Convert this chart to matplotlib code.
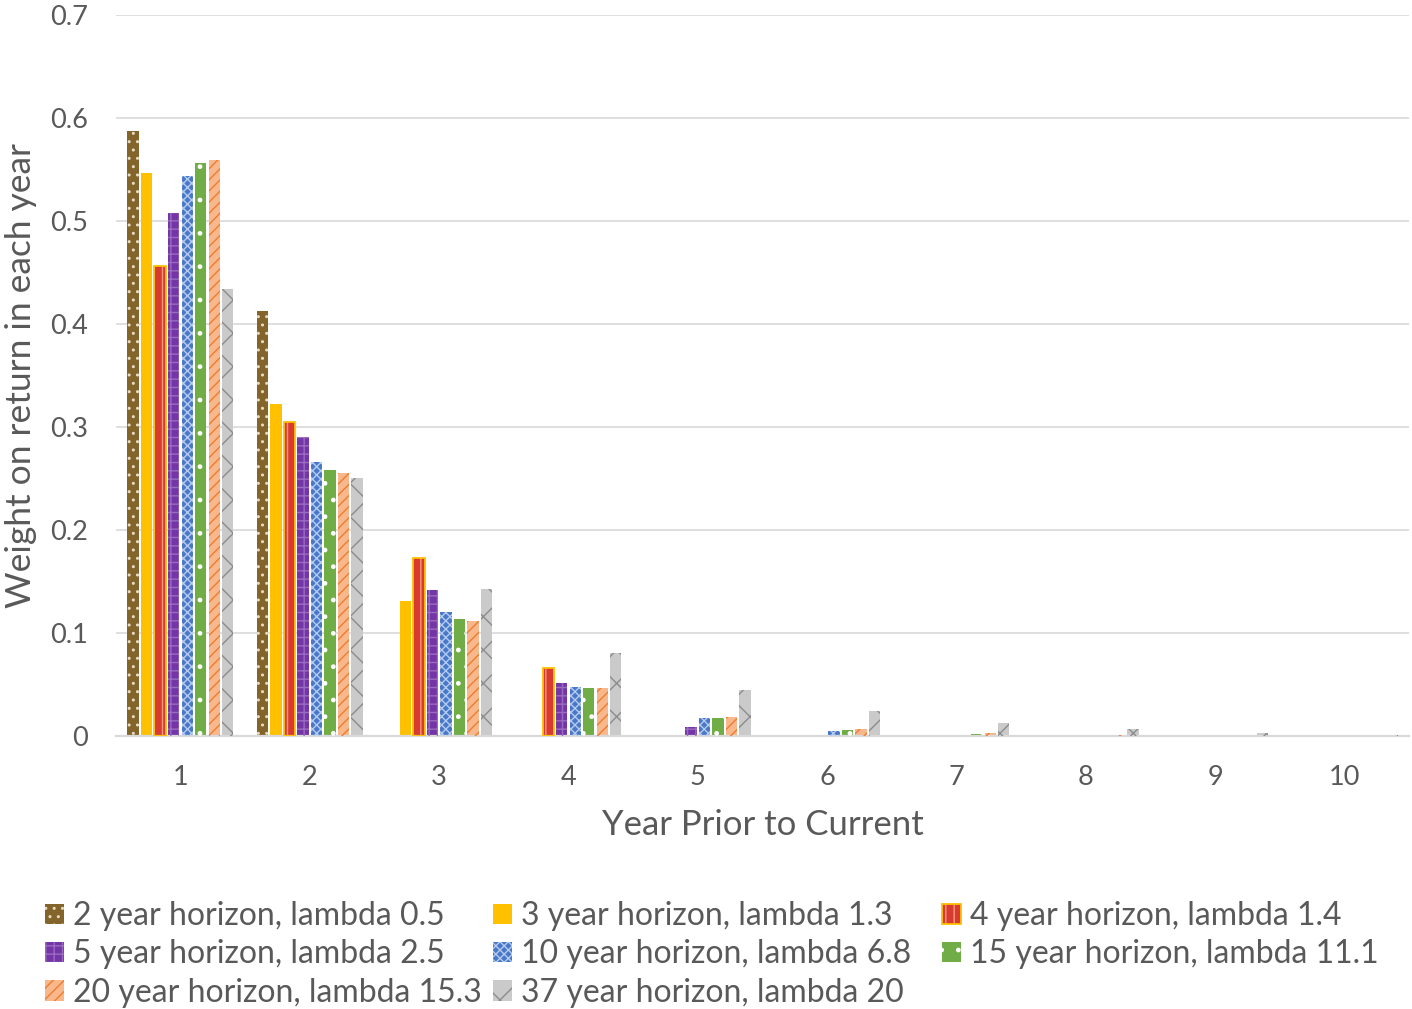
import numpy as np
import matplotlib.pyplot as plt
from matplotlib.patches import Patch
from matplotlib.legend_handler import HandlerTuple

plt.rcParams['font.family'] = ['Lato', 'DejaVu Sans']
plt.rcParams['hatch.linewidth'] = 1.0

TEXT = '#595959'
GRID = '#D9D9D9'

years = np.arange(1, 11)

labels = [
    '2 year horizon, lambda 0.5',
    '3 year horizon, lambda 1.3',
    '4 year horizon, lambda 1.4',
    '5 year horizon, lambda 2.5',
    '10 year horizon, lambda 6.8',
    '15 year horizon, lambda 11.1',
    '20 year horizon, lambda 15.3',
    '37 year horizon, lambda 20',
]

# weight on each prior year, one list per horizon
w_2 = [0.587, 0.413, 0, 0, 0, 0, 0, 0, 0, 0]
w_3 = [0.547, 0.322, 0.131, 0, 0, 0, 0, 0, 0, 0]
w_4 = [0.456, 0.305, 0.173, 0.066, 0, 0, 0, 0, 0, 0]
w_5 = [0.508, 0.290, 0.142, 0.051, 0.009, 0, 0, 0, 0, 0]
w_10 = [0.544, 0.266, 0.120, 0.048, 0.017, 0.005, 0, 0, 0, 0]
w_15 = [0.556, 0.258, 0.114, 0.047, 0.017, 0.006, 0.002, 0, 0, 0]
w_20 = [0.559, 0.255, 0.112, 0.047, 0.018, 0.007, 0.003, 0.0005, 0, 0]
w_37 = [0.434, 0.250, 0.143, 0.081, 0.045, 0.024, 0.013, 0.007, 0.003, 0.001]

series = [w_2, w_3, w_4, w_5, w_10, w_15, w_20, w_37]

# (face, hatch, hatch colour, border)
styles = [
    ('#83642A', '..', '#E8DCC0', None),
    ('#FFC000', None, None, None),
    ('#D83A30', '||', '#F59A7A', '#FFC000'),
    ('#7436A6', '++', '#9A6BC0', None),
    ('#4A78C8', 'xxxx', '#B4CBEE', None),
    ('#70AD47', '.', '#FFFFFF', None),
    ('#F8B88B', '///', '#ED7D31', None),
    ('#CACACA', 'x', '#8C8C8C', None),
]

fig = plt.figure(figsize=(14.12, 10.09), dpi=100)
ax = fig.add_axes([0.082, 0.2706, 0.916, 0.7145])

slot = 0.1045
bw = 0.088
handles = []
for i, (vals, (face, hatch, hcol, border)) in enumerate(zip(series, styles)):
    vals = np.asarray(vals, dtype=float)
    keep = vals > 0
    x = years[keep] + (i - 3.5) * slot
    ax.bar(x, vals[keep], width=bw, color=face, edgecolor='none', zorder=2)
    parts = [Patch(facecolor=face, edgecolor='none')]
    if hatch:
        ax.bar(x, vals[keep], width=bw, fill=False, hatch=hatch,
               edgecolor=hcol, linewidth=0, zorder=3)
        parts.append(Patch(fill=False, hatch=hatch, edgecolor=hcol, linewidth=0))
    if border:
        ax.bar(x, vals[keep], width=bw, fill=False, edgecolor=border,
               linewidth=1.3, zorder=4)
        parts.append(Patch(fill=False, edgecolor=border, linewidth=1.3))
    handles.append(tuple(parts))

ax.set_xlim(0.5, 10.5)
ax.set_ylim(0, 0.7)
ax.set_yticks(np.arange(0, 0.71, 0.1))
ax.set_yticklabels(['0'] + ['%.1f' % v for v in np.arange(0.1, 0.71, 0.1)])
ax.set_xticks(years)
ax.tick_params(axis='both', length=0, labelsize=19.5, colors=TEXT)
ax.tick_params(axis='y', pad=20)
ax.tick_params(axis='x', pad=21)
ax.grid(axis='y', color=GRID, linewidth=1.2, zorder=0)
ax.set_axisbelow(True)
for side in ['top', 'right', 'left']:
    ax.spines[side].set_visible(False)
ax.spines['bottom'].set_color(GRID)
ax.spines['bottom'].set_linewidth(1.6)

ax.set_xlabel('Year Prior to Current', fontsize=25, color=TEXT)
ax.xaxis.set_label_coords(0.5, -0.102)
ax.set_ylabel('Weight on return in each year', fontsize=25.5, color=TEXT)
ax.yaxis.set_label_coords(-0.061, 0.5)

# three fixed-width legend columns, filled row by row
col_x = [0.032, 0.349, 0.667]
for c in range(3):
    idx = list(range(c, 8, 3))
    fig.legend([handles[k] for k in idx], [labels[k] for k in idx],
               handler_map={tuple: HandlerTuple(ndivide=1, pad=0)},
               loc='upper left', bbox_to_anchor=(col_x[c], 0.107),
               frameon=False, fontsize=23, labelcolor=TEXT,
               handlelength=0.6, handleheight=0.6, handletextpad=0.28,
               labelspacing=0.26, borderaxespad=0, borderpad=0)

fig.savefig('out.png', dpi=100)
